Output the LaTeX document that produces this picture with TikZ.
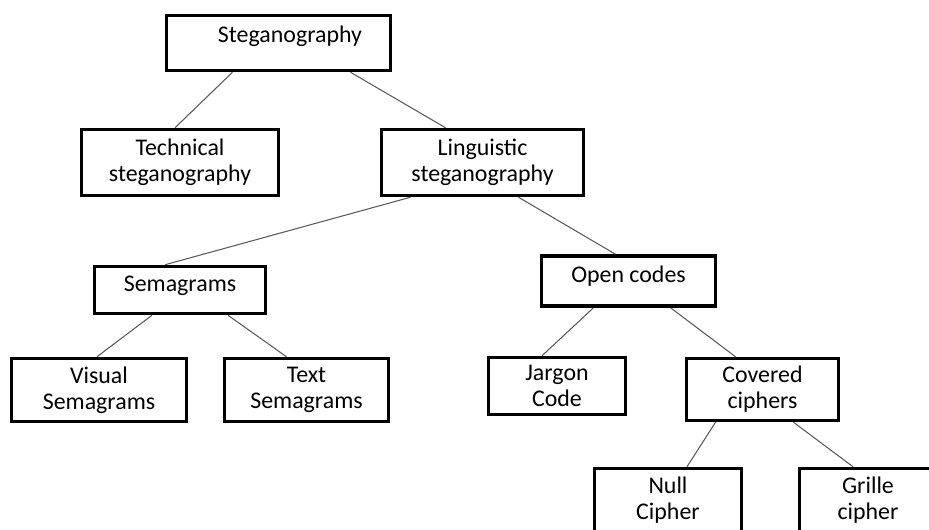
\documentclass[tikz,border=0pt]{standalone}
\usepackage{fontspec}
\setmainfont{Carlito}
\usetikzlibrary{calc}

\begin{document}
\begin{tikzpicture}[x=0.02cm,y=-0.02cm,
        box/.style={draw, rectangle, line width=2pt, align=center, inner sep=0pt,
                    font=\fontsize{13.6pt}{14.8pt}\selectfont},
        link/.style={draw=black!65, line width=0.6pt}]
        \clip (0,0) rectangle (929,530);

        \node (steg) [box, minimum width=4.48cm, minimum height=1.10cm, text depth=0.37cm] at (278.5,43) {\hspace*{0.46cm}Steganography};

        \node (tech) [box, minimum width=3.94cm, minimum height=1.32cm] at (180,162.5) {Technical\\steganography};
        \node (ling) [box, minimum width=4.04cm, minimum height=1.32cm] at (482.5,162.5) {Linguistic\\steganography};

        \node (sema) [box, minimum width=3.42cm, minimum height=0.94cm, text depth=0.27cm] at (180,290) {Semagrams};
        \node (open) [box, minimum width=3.48cm, minimum height=1.00cm, text depth=0.27cm] at (628.5,281) {Open codes};

        \node (visual) [box, minimum width=3.50cm, minimum height=1.26cm] at (99,390) {Visual\\Semagrams};
        \node (text) [box, minimum width=3.28cm, minimum height=1.26cm] at (306.5,390) {Text\\Semagrams};
        \node (jargon) [box, minimum width=2.74cm, minimum height=1.14cm] at (557,386) {Jargon\\Code};
        \node (covered) [box, minimum width=3.04cm, minimum height=1.24cm] at (762.5,389.5) {Covered\\ciphers};

        \node (null) [box, minimum width=2.94cm, minimum height=1.26cm] at (668,500) {Null\\Cipher};
        \node (grille) [box, minimum width=2.74cm, minimum height=1.26cm] at (868,500) {Grille\\cipher};

        % tree edges
        \draw[link] ($(steg.south)+(-46,0)$) -- ($(tech.north)+(-5,0)$);
        \draw[link] ($(steg.south)+(72,0)$) -- ($(ling.north)+(-37,0)$);
        \draw[link] ($(ling.south)+(-72,0)$) -- ($(sema.north)+(-15,0)$);
        \draw[link] ($(ling.south)+(36,0)$) -- ($(open.north)+(-13,0)$);
        \draw[link] ($(sema.south)+(-28,0)$) -- ($(visual.north)+(-2,0)$);
        \draw[link] ($(sema.south)+(48,0)$) -- ($(text.north)+(-20,0)$);
        \draw[link] ($(open.south)+(-35,0)$) -- ($(jargon.north)+(-15,0)$);
        \draw[link] ($(open.south)+(42,0)$) -- ($(covered.north)+(-27,0)$);
        \draw[link] ($(covered.south)+(-47,0)$) -- ($(null.north)+(19,0)$);
        \draw[link] ($(covered.south)+(31,0)$) -- ($(grille.north)+(-15,0)$);
    \end{tikzpicture}
\end{document}
